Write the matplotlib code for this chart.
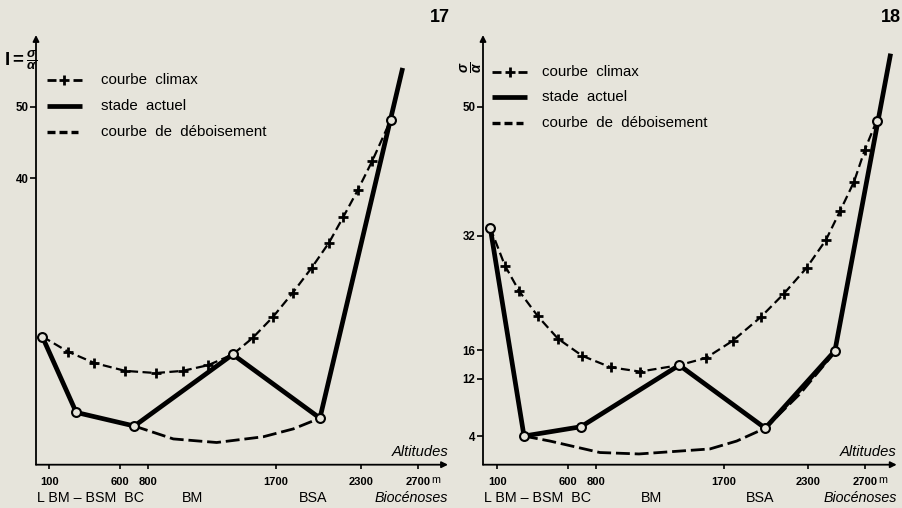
import matplotlib
matplotlib.use('Agg')
import matplotlib.pyplot as plt
from matplotlib.lines import Line2D

plt.rcParams['font.family'] = ['Liberation Sans', 'DejaVu Sans']
plt.rcParams['mathtext.fontset'] = 'custom'
plt.rcParams['mathtext.rm'] = 'Liberation Sans:bold'
plt.rcParams['mathtext.it'] = 'Liberation Sans:italic:bold'
plt.rcParams['mathtext.bf'] = 'Liberation Sans:bold'
plt.rcParams['lines.scale_dashes'] = False

BG = '#e6e4db'

# ---------------- data ----------------
alt_ticks = [100, 600, 800, 1700, 2300, 2700]
alt_labels = ['100', '600', '800', '1700', '2300', '2700']
bioc_names = ['BM', 'BSA']
bioc_alt_17 = [1110, 1960]
bioc_alt_18 = [1190, 1960]
bioc_first = 'L BM \u2013 BSM  BC'

legend_labels = ['courbe  climax', 'stade  actuel', 'courbe  de  d\u00e9boisement']

# Figure 17
f17_actuel_x = [50, 290, 700, 1395, 2010, 2594]
f17_actuel_y = [17.9, 7.3, 5.4, 15.4, 6.5, 55.4]
f17_climax_x = [50, 230, 418, 636, 851, 1041, 1222, 1395, 1535, 1677, 1818,
                1952, 2074, 2175, 2276, 2379, 2509]
f17_climax_y = [17.9, 15.8, 14.2, 13.1, 12.8, 13.1, 13.9, 15.4, 17.7, 20.6, 24.0,
                27.5, 31.0, 34.6, 38.3, 42.4, 48.1]
f17_plus_idx = [1, 2, 3, 4, 5, 6, 8, 9, 10, 11, 12, 13, 14, 15]
f17_deboise_x = [700, 975, 1281, 1610, 1822, 2010]
f17_deboise_y = [5.4, 3.6, 3.1, 3.9, 5.0, 6.5]
f17_circle_x = [50, 290, 700, 1395, 2010, 2509]
f17_circle_y = [17.9, 7.3, 5.4, 15.4, 6.5, 48.1]
f17_yticks = [40, 50]

# Figure 18
f18_actuel_x = [50, 289, 692, 1387, 1995, 2488, 2882]
f18_actuel_y = [33.1, 4.0, 5.3, 13.9, 5.1, 15.9, 57.4]
f18_climax_x = [50, 154, 256, 388, 529, 701, 902, 1109, 1387, 1576, 1765, 1963,
                2128, 2288, 2425, 2524, 2623, 2700, 2783]
f18_climax_y = [33.1, 27.8, 24.2, 20.7, 17.6, 15.2, 13.6, 13.0, 13.9, 14.9, 17.3,
                20.6, 23.9, 27.5, 31.4, 35.4, 39.5, 44.0, 48.0]
f18_plus_idx = [1, 2, 3, 4, 5, 6, 7, 9, 10, 11, 12, 13, 14, 15, 16, 17]
f18_deboise_x = [289, 473, 826, 1102, 1604, 1793, 1995, 2241, 2474]
f18_deboise_y = [4.0, 3.3, 1.7, 1.5, 2.2, 3.3, 5.1, 9.9, 15.4]
f18_circle_x = [50, 289, 692, 1387, 1995, 2488, 2783]
f18_circle_y = [33.1, 4.0, 5.3, 13.9, 5.1, 15.9, 48.0]
f18_yticks = [4, 12, 16, 32, 50]

# ---------------- figure ----------------
W, H = 903, 508
fig = plt.figure(figsize=(W / 100, H / 100), dpi=100, facecolor=BG)


def fx(px):
    return px / W


def fy(py):
    return 1 - py / H


CLIMAX_LS = (0, (6.5, 3.2))
DEB_LS = (0, (10, 3.5))


def draw_panel(rect, xlim, ax_x, ax_y, cx, cy, plus_idx, dx, dy, ox, oy,
               yticks, bioc_alt, title, title_px, legend_px, ylab, ylab_px):
    ax = fig.add_axes(rect)
    ax.set_facecolor('none')
    ax.set_xlim(*xlim)
    ax.set_ylim(0, 60)
    for s in ax.spines.values():
        s.set_visible(False)
    # axes with arrows
    ax.annotate('', xy=(1, 0), xytext=(0, 0), xycoords='axes fraction',
                arrowprops=dict(arrowstyle='-|>', lw=1.3, color='black',
                                mutation_scale=9, shrinkA=0, shrinkB=0))
    ax.annotate('', xy=(0, 1), xytext=(0, 0), xycoords='axes fraction',
                arrowprops=dict(arrowstyle='-|>', lw=1.3, color='black',
                                mutation_scale=9, shrinkA=0, shrinkB=0))
    ax.set_xticks(alt_ticks)
    ax.set_xticklabels(alt_labels, fontsize=8, fontweight='bold')
    ax.set_yticks(yticks)
    ax.set_yticklabels([str(v) for v in yticks], fontsize=8.3, fontweight='bold')
    ax.tick_params(axis='x', direction='out', length=3, width=1.2, pad=5.8)
    ax.tick_params(axis='y', direction='out', length=4, width=1.2, pad=1.5)

    # curves
    ax.plot(dx, dy, color='black', lw=2.0, linestyle=DEB_LS, zorder=2,
            dash_capstyle='butt')
    ax.plot(cx, cy, color='black', lw=1.6, linestyle=CLIMAX_LS, zorder=3,
            dash_capstyle='butt')
    ax.plot([cx[i] for i in plus_idx], [cy[i] for i in plus_idx], linestyle='none',
            marker='+', ms=7, mew=2.0, color='black', zorder=4)
    ax.plot(ax_x, ax_y, color='black', lw=3.4, solid_capstyle='butt', zorder=3)
    ax.plot(ox, oy, linestyle='none', marker='o', ms=6.4, mew=1.5,
            mfc=BG, mec='black', zorder=5)

    # "m" after 2700
    ax.annotate('m', xy=(alt_ticks[-1], 0), xycoords=('data', 'axes fraction'),
                xytext=(9.5, -11), textcoords='offset points', fontsize=7.8,
                ha='left', va='center')
    # Altitudes
    ax.text(1.0, 0.029, 'Altitudes', transform=ax.transAxes, fontsize=10.6,
            style='italic', ha='right', va='center')
    # Biocenoses row
    ax.annotate(bioc_first, xy=(0, 0), xycoords='axes fraction', xytext=(0.5, -24),
                textcoords='offset points', fontsize=10.3, ha='left', va='center')
    for name, a in zip(bioc_names, bioc_alt):
        ax.annotate(name, xy=(a, 0), xycoords=('data', 'axes fraction'),
                    xytext=(0, -24), textcoords='offset points', fontsize=10.3,
                    ha='center', va='center')
    ax.annotate('Bioc\u00e9noses', xy=(1, 0), xycoords='axes fraction',
                xytext=(0, -24), textcoords='offset points', fontsize=10.3,
                style='italic', ha='right', va='center')

    # title number
    fig.text(fx(title_px[0]), fy(title_px[1]), title, fontsize=13,
             fontweight='bold', ha='center', va='center')

    # y label
    if ylab == 'I':
        fig.text(fx(ylab_px[0]), fy(ylab_px[1]), r'I$=\frac{\sigma}{\alpha}$',
                 fontsize=13.5, fontweight='bold', ha='center', va='center')
    else:
        fig.text(fx(ylab_px[0]), fy(ylab_px[1]), r'$\frac{\sigma}{\alpha}$',
                 fontsize=14, rotation=90, ha='center', va='center')

    # legend
    lx0, lx1, tx, rows = legend_px
    y = rows[0]
    seg = (lx1 - lx0)
    fig.add_artist(Line2D([fx(lx0), fx(lx0 + seg * 0.26)], [fy(y), fy(y)],
                          color='black', lw=2.0, solid_capstyle='butt'))
    fig.add_artist(Line2D([fx(lx1 - seg * 0.26), fx(lx1)], [fy(y), fy(y)],
                          color='black', lw=2.0, solid_capstyle='butt'))
    fig.add_artist(Line2D([fx((lx0 + lx1) / 2)], [fy(y)], marker='+', ms=7,
                          mew=2.0, color='black', linestyle='none'))
    y = rows[1]
    fig.add_artist(Line2D([fx(lx0), fx(lx1)], [fy(y), fy(y)], color='black',
                          lw=3.4, solid_capstyle='butt'))
    y = rows[2]
    for k in range(3):
        a = lx0 + k * seg / 3 + 0.5
        b = a + seg / 3 - 4
        fig.add_artist(Line2D([fx(a), fx(b)], [fy(y), fy(y)], color='black',
                              lw=2.4, solid_capstyle='butt'))
    for lab, y in zip(legend_labels, rows):
        fig.text(fx(tx), fy(y), lab, fontsize=10.8, ha='left', va='center')
    return ax


ax17 = draw_panel([fx(36), 1 - 464.7 / H, (448 - 36) / W, (464.7 - 35) / H],
                  (6, 2914), f17_actuel_x, f17_actuel_y, f17_climax_x, f17_climax_y,
                  f17_plus_idx, f17_deboise_x, f17_deboise_y, f17_circle_x, f17_circle_y,
                  f17_yticks, bioc_alt_17, '17', (440, 17),
                  (47, 82, 101, [80, 106, 132]), 'I', (20.5, 60))

ax18 = draw_panel([fx(483), 1 - 464.7 / H, (896.7 - 483) / W, (464.7 - 35) / H],
                  (-1, 2925), f18_actuel_x, f18_actuel_y, f18_climax_x, f18_climax_y,
                  f18_plus_idx, f18_deboise_x, f18_deboise_y, f18_circle_x, f18_circle_y,
                  f18_yticks, bioc_alt_18, '18', (891, 17),
                  (492, 527, 542, [72, 97, 123]), 'r', (472, 67))

fig.savefig('out.png', dpi=100, facecolor=BG)
